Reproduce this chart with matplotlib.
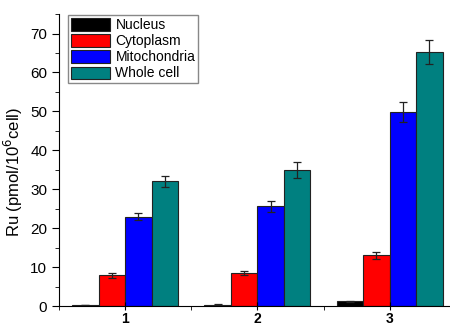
import numpy as np
import matplotlib.pyplot as plt
from matplotlib.ticker import MultipleLocator

plt.rcParams['font.family'] = ['Liberation Sans', 'DejaVu Sans']

groups = ['1', '2', '3']
series = ['Nucleus', 'Cytoplasm', 'Mitochondria', 'Whole cell']
colors = ['#000000', '#ff0000', '#0000ff', '#008080']
nucleus = [0.3, 0.4, 1.2]
nucleus_err = [0.1, 0.1, 0.2]
cytoplasm = [7.9, 8.5, 13.0]
cytoplasm_err = [0.6, 0.6, 0.8]
mitochondria = [23.0, 25.6, 49.8]
mitochondria_err = [1.0, 1.4, 2.6]
whole = [32.0, 35.0, 65.3]
whole_err = [1.3, 2.0, 3.0]

values = [nucleus, cytoplasm, mitochondria, whole]
errors = [nucleus_err, cytoplasm_err, mitochondria_err, whole_err]

fig = plt.figure(figsize=(4.5, 3.27), dpi=100)
ax = fig.add_axes([0.131, 0.064, 0.882, 0.893])

x = np.arange(1, len(groups) + 1)
w = 0.2
for i, (name, vals, errs, c) in enumerate(zip(series, values, errors, colors)):
    ax.bar(x + (i - 1.5) * w, vals, w, yerr=errs, color=c, edgecolor='#222222',
           linewidth=0.8, label=name, capsize=3,
           error_kw=dict(elinewidth=0.9, capthick=0.9, ecolor='#222222'))

ax.set_xlim(0.5, 3.5)
ax.set_ylim(0, 75)
ax.set_xticks(x)
ax.set_xticklabels(groups, fontweight='bold', fontsize=10)
ax.xaxis.set_minor_locator(MultipleLocator(0.5))
ax.yaxis.set_major_locator(MultipleLocator(10))
ax.yaxis.set_minor_locator(MultipleLocator(5))
ax.tick_params(axis='x', which='major', direction='inout', length=6, pad=1)
ax.tick_params(axis='x', which='minor', direction='out', length=3)
ax.tick_params(axis='y', which='major', direction='out', length=5, labelsize=11)
ax.tick_params(axis='y', which='minor', direction='out', length=3)
ax.spines['top'].set_visible(False)
ax.spines['right'].set_visible(False)
ax.set_ylabel('Ru (pmol/10$^6$cell)', fontsize=12)
ax.yaxis.set_label_coords(-0.085, 0.46)

ax.legend(loc='upper left', bbox_to_anchor=(0.02, 1.0), fontsize=10,
          frameon=True, fancybox=False, edgecolor='#888888', framealpha=1,
          handlelength=2.8, handleheight=1.0, labelspacing=0.15,
          handletextpad=0.4, borderpad=0.2, borderaxespad=0.1)

fig.savefig('out.png', dpi=100)
